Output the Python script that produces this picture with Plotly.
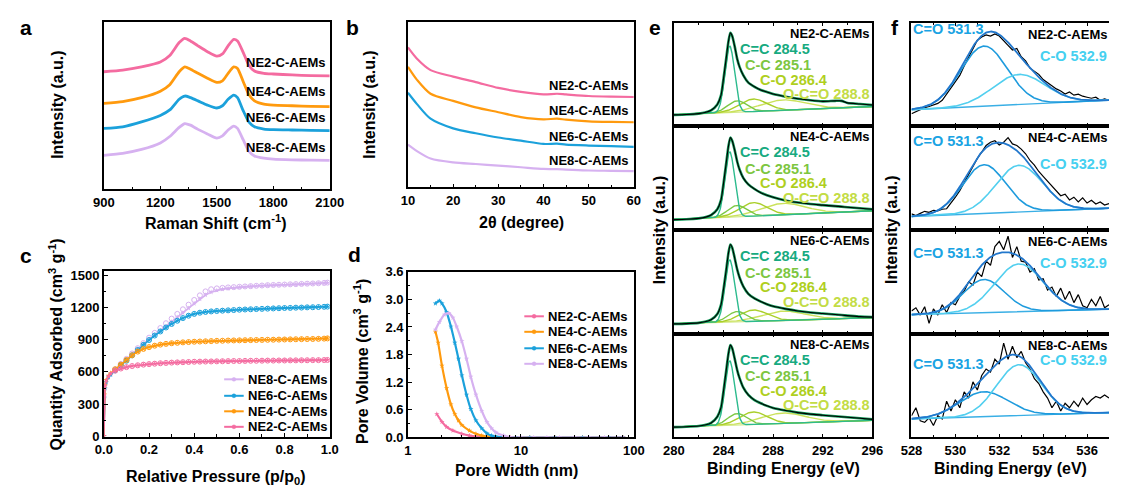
import numpy as np
import plotly.graph_objects as go

W, H = 1123, 493
FONT = "Liberation Sans, Arial, Helvetica, sans-serif"

SAMPLES = ["NE2-C-AEMs", "NE4-C-AEMs", "NE6-C-AEMs", "NE8-C-AEMs"]
COLORS = ["#F46BA0", "#FF9A0E", "#1BA1DB", "#D6B1F0"]

# ---------------- (a) Raman spectra (offset, a.u.) ----------------
raman_shift = [900, 1000, 1100, 1200, 1250, 1300, 1330, 1360, 1400, 1450, 1500, 1530,
               1560, 1590, 1610, 1640, 1670, 1700, 1750, 1800, 1900, 2000, 2100]
raman_ne2 = [363, 368, 378, 393, 413, 453, 466, 458, 443, 425, 411, 418,
             443, 463, 458, 423, 383, 365, 358, 356, 353, 351, 350]
raman_ne4 = [265, 271, 283, 303, 323, 363, 378, 371, 358, 343, 330, 335,
             358, 378, 373, 333, 293, 273, 263, 260, 258, 256, 255]
raman_ne6 = [188, 193, 208, 228, 245, 278, 288, 283, 273, 260, 251, 258,
             278, 291, 283, 243, 208, 193, 186, 184, 183, 182, 181]
raman_ne8 = [105, 111, 123, 143, 163, 191, 203, 198, 185, 171, 158, 165,
             183, 195, 188, 153, 118, 103, 96, 93, 91, 90, 89]

# ---------------- (b) XRD patterns (offset, a.u.) ----------------
two_theta = [10, 12, 15, 20, 25, 30, 35, 40, 43, 45, 50, 55, 60]
xrd_ne2 = [432, 397, 362, 342, 325, 307, 295, 287, 289, 287, 282, 280, 279]
xrd_ne4 = [372, 332, 289, 267, 247, 232, 217, 210, 212, 209, 204, 202, 201]
xrd_ne6 = [292, 257, 212, 182, 167, 154, 144, 134, 135, 132, 129, 127, 125]
xrd_ne8 = [132, 112, 89, 77, 72, 67, 62, 57, 56, 55, 52, 51, 50]

# ---------------- (c) N2 isotherms ----------------
rel_pressure = [0.0, 0.002, 0.005, 0.01, 0.02, 0.03, 0.05, 0.075, 0.1, 0.125, 0.15, 0.175,
                0.2, 0.225, 0.25, 0.275, 0.3, 0.325, 0.35, 0.375, 0.4, 0.425, 0.45, 0.475,
                0.5, 0.525, 0.55, 0.575, 0.6, 0.625, 0.65, 0.675, 0.7, 0.725, 0.75, 0.775,
                0.8, 0.825, 0.85, 0.875, 0.9, 0.925, 0.95, 0.975, 0.99]
ads_ne2 = [0, 380, 470, 520, 560, 585, 612, 632, 645, 655, 662, 668, 673, 677, 681, 684,
           687, 689, 691, 693, 695, 696, 697, 698, 699, 700, 701, 702, 702, 703, 704, 704,
           705, 706, 706, 707, 707, 708, 708, 709, 709, 710, 710, 711, 712]
ads_ne4 = [0, 390, 480, 525, 565, 590, 625, 668, 712, 755, 790, 815, 832, 845, 855, 862,
           868, 872, 876, 879, 882, 884, 886, 888, 890, 891, 893, 894, 895, 896, 897, 898,
           899, 900, 901, 902, 903, 904, 905, 906, 907, 908, 909, 911, 913]
ads_ne6 = [0, 360, 450, 505, 550, 575, 615, 660, 705, 755, 805, 853, 898, 940, 978, 1015,
           1048, 1078, 1103, 1125, 1142, 1153, 1160, 1165, 1169, 1172, 1175, 1178, 1181,
           1183, 1185, 1187, 1189, 1191, 1193, 1195, 1197, 1198, 1200, 1201, 1203, 1204,
           1206, 1208, 1210]
ads_ne8 = [0, 350, 440, 500, 548, 575, 618, 668, 715, 765, 815, 862, 905, 945, 985, 1025,
           1068, 1110, 1152, 1195, 1238, 1280, 1318, 1345, 1362, 1373, 1380, 1386, 1391,
           1395, 1399, 1402, 1405, 1408, 1410, 1412, 1414, 1416, 1418, 1420, 1422, 1424,
           1426, 1429, 1432]
des_pressure = rel_pressure[6:]
des_ne2 = ads_ne2[6:]
des_ne4 = ads_ne4[6:]
des_ne6 = ads_ne6[6:]
des_ne8 = [625, 675, 722, 772, 822, 870, 920, 965, 1010, 1055, 1098, 1142, 1185, 1228,
           1272, 1315, 1352, 1372, 1380, 1385, 1389, 1392, 1395, 1398, 1401, 1404, 1407,
           1410, 1412, 1414, 1416, 1418, 1420, 1422, 1424, 1426, 1428, 1431, 1434]

# ---------------- (d) pore size distributions ----------------
pw_ne2 = [1.8, 2.0, 2.2, 2.5, 3.0, 3.5, 4.0, 5.0, 6.0, 8.0, 12, 20, 35, 60, 80]
pv_ne2 = [0.51, 0.34, 0.23, 0.15, 0.08, 0.04, 0.02, 0.01, 0.005, 0, 0, 0, 0, 0, 0]
pw_ne4 = [1.75, 1.85, 2.0, 2.2, 2.4, 2.6, 2.8, 3.0, 3.5, 4.0, 4.5, 5.0, 6.0, 8, 12, 20, 35, 60, 80]
pv_ne4 = [2.30, 2.06, 1.56, 1.07, 0.72, 0.51, 0.37, 0.27, 0.15, 0.08, 0.04, 0.02, 0.01,
          0, 0, 0, 0, 0, 0]
pw_ne6 = [1.75, 1.9, 2.0, 2.2, 2.4, 2.6, 2.8, 3.0, 3.3, 3.6, 4.0, 4.5, 5.0, 5.5, 6.0, 7.0,
          9, 12, 20, 35, 60, 80]
pv_ne6 = [2.91, 2.97, 2.91, 2.72, 2.41, 2.06, 1.71, 1.35, 0.93, 0.62, 0.37, 0.20, 0.09,
          0.04, 0.02, 0.01, 0, 0, 0, 0, 0, 0]
pw_ne8 = [1.75, 1.9, 2.1, 2.3, 2.5, 2.7, 3.0, 3.3, 3.6, 4.0, 4.5, 5.0, 5.5, 6.0, 7.0, 8.0,
          10, 13, 17, 22, 30, 40, 55, 80]
pv_ne8 = [2.34, 2.51, 2.67, 2.70, 2.60, 2.41, 2.09, 1.71, 1.32, 0.93, 0.58, 0.34, 0.20,
          0.11, 0.04, 0.01, 0, 0, 0, 0, 0, 0, 0, 0]

# ---------------- (e) C 1s spectra ----------------
c1s_energy = [280, 281, 282, 282.5, 283, 283.5, 283.8, 284.0, 284.2, 284.4, 284.55, 284.7,
              284.9, 285.1, 285.3, 285.6, 286, 286.5, 287, 287.5, 288, 289, 290, 291, 292,
              293, 293.5, 294, 295, 296]
c1s_ne2 = [11.0, 11.3, 12.2, 13.2, 15.4, 21.0, 30, 46, 64, 82, 90, 87, 77, 65, 57, 49, 42,
           38, 35, 33, 31, 28.5, 26.5, 25, 24, 24.5, 24.5, 22.5, 21.5, 20.5]
c1s_ne4 = [10, 10.3, 11.2, 12.2, 14.4, 20, 29, 45, 63, 81, 89, 86, 77, 66, 58, 50, 44,
           39.5, 36, 33.5, 31.5, 28.5, 26.5, 25, 24, 23, 22.5, 22, 21, 20]
c1s_ne6 = [9.5, 9.8, 10.5, 11.5, 13.5, 19, 28, 43, 60, 78, 86, 83, 73, 62, 54, 45.5, 38.5,
           34, 31, 28.5, 26.5, 24, 22, 20.5, 19.5, 18.5, 18, 17.5, 16.5, 16]
c1s_ne8 = [10, 10.3, 11, 12, 14, 20, 29, 45, 63, 81, 89, 86, 76, 65, 57, 48, 41, 36, 33,
           30.5, 28.5, 26, 24, 22.5, 21.5, 20.5, 20, 19.5, 18.5, 17.5]
c1s_names = ["C=C", "C-C", "C-O", "O-C=O"]
c1s_centers = [284.5, 285.1, 286.4, 288.8]
c1s_fwhm = [0.9, 1.8, 2.6, 4.2]
c1s_heights = [[64, 11, 12, 10], [63, 11, 13, 11], [60, 10, 11, 9], [62, 11, 12, 10]]
c1s_background = [(11, 19), (10, 18.5), (9.5, 15.5), (10, 16.5)]

# ---------------- (f) O 1s spectra ----------------
o1s_energy = np.round(np.arange(528.0, 537.01, 0.2), 1)
o1s_ne2 = [12, 14, 16.5, 18, 19, 20.5, 22, 25, 31, 38, 44, 49, 58, 66, 75, 83, 86, 88, 87,
           89, 87, 83, 78, 73.5, 75, 67, 63, 56, 53, 50, 45, 42, 39, 36, 34, 31, 33, 30, 31,
           29, 28, 27, 28, 25, 26.5, 25]
o1s_ne4 = [15.6, 14, 16, 18, 17, 19, 18.5, 20, 20.5, 25.5, 31.6, 37.9, 45.7, 53.5, 61, 69,
           75, 81.5, 84.6, 86, 82, 84.6, 89, 83, 81.5, 78, 73.5, 67, 62.6, 56.4, 51.7, 47,
           42.4, 37.9, 33, 34.6, 29, 31.6, 27, 31, 26, 28.6, 25, 27, 24, 25.5]
o1s_ne6 = [22, 25, 18, 26, 10, 24, 18, 28, 20.5, 30, 28, 36, 41, 50, 47, 59.5, 55, 70, 66,
           84, 89, 81, 94, 73.5, 84, 70, 69, 59.5, 62.6, 51.7, 53, 42, 45, 36, 44, 33, 41,
           30, 37.7, 27, 25, 33, 27, 36, 25, 28]
o1s_ne8 = [20.9, 28.7, 16, 14.6, 19, 11.5, 21, 17.8, 35, 25.5, 36.4, 28.7, 44, 38, 53.6,
           45.8, 59.8, 66, 63, 75.4, 70.7, 91, 75.4, 87.9, 77, 83, 72, 66, 56.7, 52, 44, 38,
           28.7, 35, 25.5, 33, 28.7, 35, 30, 38, 31.8, 36.4, 39.6, 38, 41, 38]
o1s_names = ["C=O", "C-O"]
o1s_centers = [531.3, 532.9]
o1s_heights = [[58, 29], [47, 45], [32, 46], [24, 49]]
o1s_fwhm = [[2.5, 2.8], [2.3, 2.5], [2.2, 2.6], [2.6, 2.4]]
o1s_background = [(15.9, 25.2), (13, 21), (18.4, 23.7), (17.8, 24)]

C1S_LINE = ["#2DBB8E", "#7CC843", "#AACF2A", "#CBE25C"]
C1S_TEXT = ["#17AA80", "#7DC63F", "#AFCF1E", "#C3DC45"]
C1S_ENV = "#139A5A"
O1S_LINE = ["#1E9BDD", "#52CFEF"]
O1S_TEXT = ["#1AA3E3", "#45D0F0"]
O1S_ENV = "#2277CC"
O1S_BASE = "#3AAFE5"


def dx(x0, x1):
    return [x0 / W, min(x1 / W, 1.0)]


def dy(y0, y1):
    return [1 - y1 / H, 1 - y0 / H]


def gauss(e, center, height, fwhm):
    return height * np.exp(-4 * np.log(2) * ((e - center) / fwhm) ** 2)


def linear_bg(e, lo, hi):
    return lo + (hi - lo) * (e - e[0]) / (e[-1] - e[0])


TICKFONT = dict(family=FONT, size=13, color="black", weight="bold")


def axis_style(**kw):
    base = dict(showline=True, linecolor="black", linewidth=1.5, mirror=True,
                ticks="inside", ticklen=4, tickwidth=1.3, tickcolor="black",
                showgrid=False, zeroline=False, tickfont=TICKFONT)
    base.update(kw)
    return base


def minor(**kw):
    d = dict(ticks="inside", ticklen=2.5, tickwidth=1.1, tickcolor="black", showgrid=False)
    d.update(kw)
    return d


fig = go.Figure()


def add(x, y, ax, **kw):
    fig.add_trace(go.Scatter(x=x, y=y, xaxis="x" + ax, yaxis="y" + ax,
                             showlegend=False, hoverinfo="skip", **kw))


# (a)
for vals, col in zip([raman_ne2, raman_ne4, raman_ne6, raman_ne8], COLORS):
    add(raman_shift, vals, "", mode="lines",
        line=dict(color=col, width=2.8, shape="spline", smoothing=0.6))

# (b)
for vals, col in zip([xrd_ne2, xrd_ne4, xrd_ne6, xrd_ne8], COLORS):
    add(two_theta, vals, "2", mode="lines",
        line=dict(color=col, width=2.2, shape="spline", smoothing=0.8))

# (c) drawn NE8 first so the lower isotherms sit on top
iso = [(ads_ne8, des_ne8, COLORS[3]), (ads_ne6, des_ne6, COLORS[2]),
       (ads_ne4, des_ne4, COLORS[1]), (ads_ne2, des_ne2, COLORS[0])]
for ads, des, col in iso:
    add(rel_pressure, ads, "3", mode="lines+markers",
        line=dict(color=col, width=1.6),
        marker=dict(symbol="star", size=4, color=col))
    add(des_pressure, des, "3", mode="markers",
        marker=dict(symbol="circle-open", size=5, color=col, line=dict(width=1, color=col)))

# (d)
for w, v, col in zip([pw_ne2, pw_ne4, pw_ne6, pw_ne8], [pv_ne2, pv_ne4, pv_ne6, pv_ne8], COLORS):
    add(w, v, "4", mode="lines+markers",
        line=dict(color=col, width=2.2, shape="spline", smoothing=0.5),
        marker=dict(symbol="star", size=4, color=col))

# (e) C 1s fits
e_c = np.linspace(280, 296, 401)
c1s_data = [c1s_ne2, c1s_ne4, c1s_ne6, c1s_ne8]
for i in range(4):
    ax = str(5 + i)
    bg = linear_bg(e_c, *c1s_background[i])
    add(e_c, bg, ax, mode="lines", line=dict(color="#D3E98A", width=1.2))
    for k in reversed(range(4)):
        add(e_c, bg + gauss(e_c, c1s_centers[k], c1s_heights[i][k], c1s_fwhm[k]), ax,
            mode="lines", line=dict(color=C1S_LINE[k], width=1.4))
    add(c1s_energy, c1s_data[i], ax, mode="lines",
        line=dict(color=C1S_ENV, width=2.6, shape="spline", smoothing=0.6))
    add(c1s_energy, c1s_data[i], ax, mode="lines",
        line=dict(color="black", width=1.1, shape="spline", smoothing=0.6))

# (f) O 1s fits
e_o = np.linspace(528, 537, 361)
o1s_data = [o1s_ne2, o1s_ne4, o1s_ne6, o1s_ne8]
for i in range(4):
    ax = str(9 + i)
    bg = linear_bg(e_o, *o1s_background[i])
    comps = [gauss(e_o, o1s_centers[k], o1s_heights[i][k], o1s_fwhm[i][k]) for k in range(2)]
    add(o1s_energy, o1s_data[i], ax, mode="lines", line=dict(color="black", width=1.2))
    add(e_o, bg, ax, mode="lines", line=dict(color=O1S_BASE, width=1.4))
    for k in range(2):
        add(e_o, bg + comps[k], ax, mode="lines", line=dict(color=O1S_LINE[k], width=1.6))
    add(e_o, bg + comps[0] + comps[1], ax, mode="lines", line=dict(color=O1S_ENV, width=1.8))

layout = dict(
    width=W, height=H, autosize=False,
    margin=dict(l=0, r=0, t=0, b=0),
    paper_bgcolor="white", plot_bgcolor="white",
    font=dict(family=FONT, color="black"),
    showlegend=False,
)

layout["xaxis"] = axis_style(domain=dx(95, 326), range=[900, 2100], anchor="y",
                             tickvals=[900, 1200, 1500, 1800, 2100],
                             minor=minor(tick0=900, dtick=150))
layout["yaxis"] = axis_style(domain=dy(15, 188), range=[0, 518], anchor="x",
                             ticks="", showticklabels=False)
layout["xaxis2"] = axis_style(domain=dx(406, 637), range=[10, 60], anchor="y2",
                              tickvals=[10, 20, 30, 40, 50, 60], minor=minor(tick0=10, dtick=5))
layout["yaxis2"] = axis_style(domain=dy(15, 186), range=[0, 512], anchor="x2",
                              ticks="", showticklabels=False)
layout["xaxis3"] = axis_style(domain=dx(95, 326), range=[0, 1], anchor="y3",
                              tickvals=[0, 0.2, 0.4, 0.6, 0.8, 1.0], tickformat=".1f",
                              minor=minor(tick0=0, dtick=0.1))
layout["yaxis3"] = axis_style(domain=dy(272, 443), range=[-3, 1545], anchor="x3",
                              tickvals=[0, 300, 600, 900, 1200, 1500],
                              minor=minor(tick0=0, dtick=150))
layout["xaxis4"] = axis_style(domain=dx(406, 637), type="log", range=[0, 2], anchor="y4",
                              tickvals=[1, 10, 100], ticktext=["1", "10", "100"],
                              minor=minor(tickvals=[2, 3, 4, 5, 6, 7, 8, 9,
                                                    20, 30, 40, 50, 60, 70, 80, 90]))
layout["yaxis4"] = axis_style(domain=dy(273, 444), range=[0, 3.6], anchor="x4",
                              tickvals=[0, 0.6, 1.2, 1.8, 2.4, 3.0, 3.6], tickformat=".1f",
                              minor=minor(tick0=0, dtick=0.3))

PANEL_TOPS = [16, 123, 230, 337]
for i, top in enumerate(PANEL_TOPS):
    n = 5 + i
    layout["xaxis%d" % n] = axis_style(domain=dx(678, 881), range=[280, 296], anchor="y%d" % n,
                                       tickvals=[280, 284, 288, 292, 296], mirror="ticks",
                                       showticklabels=(i == 3),
                                       minor=minor(tick0=280, dtick=2))
    layout["yaxis%d" % n] = axis_style(domain=dy(top, top + 107), range=[0, 100],
                                       anchor="x%d" % n, ticks="", showticklabels=False)
    m = 9 + i
    layout["xaxis%d" % m] = axis_style(domain=dx(921, 1123), range=[528, 537], anchor="y%d" % m,
                                       tickvals=[528, 530, 532, 534, 536], mirror="ticks",
                                       showticklabels=(i == 3),
                                       minor=minor(tick0=528, dtick=1))
    layout["yaxis%d" % m] = axis_style(domain=dy(top, top + 107), range=[0, 100],
                                       anchor="x%d" % m, ticks="", showticklabels=False,
                                       mirror=False)

annotations = []
shapes = []


def text(x, y, s, size=13, color="black", xanchor="left", angle=0):
    annotations.append(dict(x=x / W, y=1 - y / H, xref="paper", yref="paper",
                            text="<b>%s</b>" % s, showarrow=False, xanchor=xanchor,
                            yanchor="middle", textangle=angle, borderpad=0,
                            font=dict(family=FONT, size=size, color=color)))


# panel letters
for letter, (lx, ly) in zip("abcdef", [(15, 21), (349, 21), (15, 256), (351, 255),
                                       (659, 21), (904, 21)]):
    text(lx, ly, letter, size=21, xanchor="center")

# axis titles
text(210, 222, "Raman Shift (cm<sup>-1</sup>)", size=16, xanchor="center")
text(48, 101, "Intensity (a.u.)", size=16, xanchor="center", angle=-90)
text(522, 222, "2θ (degree)", size=16, xanchor="center")
text(367, 101, "Intensity (a.u.)", size=16, xanchor="center", angle=-90)
text(210, 485, "Relative Pressure (p/p<sub>0</sub>)", size=16, xanchor="center")
text(46, 348, "Quantity Adsorbed (cm<sup>3</sup> g<sup>-1</sup>)", size=16,
     xanchor="center", angle=-90)
text(517, 478, "Pore Width (nm)", size=16, xanchor="center")
text(358, 366, "Pore Volume (cm<sup>3</sup> g<sup>-1</sup>)", size=16,
     xanchor="center", angle=-90)
text(790, 476, "Binding Energy (eV)", size=16, xanchor="center")
text(663, 230, "Intensity (a.u.)", size=16, xanchor="center", angle=-90)
text(1022, 476, "Binding Energy (eV)", size=16, xanchor="center")
text(900, 230, "Intensity (a.u.)", size=16, xanchor="center", angle=-90)

# sample labels in (a) and (b)
for name, ya, yb in zip(SAMPLES, [57, 87, 114, 145], [81, 107, 134, 158]):
    text(322, ya, name, xanchor="right")
    text(632, yb, name, xanchor="right")


# legends in (c) and (d)
def legend_entry(x0, y, name, col):
    shapes.append(dict(type="line", xref="paper", yref="paper", x0=x0 / W, x1=(x0 + 20) / W,
                       y0=1 - y / H, y1=1 - y / H, line=dict(color=col, width=2)))
    shapes.append(dict(type="circle", xref="paper", yref="paper",
                       x0=(x0 + 8) / W, x1=(x0 + 12) / W, y0=1 - (y + 2) / H, y1=1 - (y - 2) / H,
                       fillcolor=col, line=dict(color=col, width=0.5)))
    text(x0 + 23, y, name)


for idx, y in zip([3, 2, 1, 0], [384, 401, 417, 433]):
    legend_entry(218, y, SAMPLES[idx], COLORS[idx])
for idx, y in zip([0, 1, 2, 3], [319, 335, 352, 368]):
    legend_entry(525, y, SAMPLES[idx], COLORS[idx])

# XPS peak labels
for i, top in enumerate(PANEL_TOPS):
    text(879, top + 11, SAMPLES[i], size=13, xanchor="right")
    for k, (lx, dyk) in enumerate([(745, 27), (750, 44), (765, 59), (789, 74)]):
        text(lx, top + dyk, "%s %.1f" % (c1s_names[k], c1s_centers[k]), size=14.5,
             color=C1S_TEXT[k])
    text(1122, top + 12, SAMPLES[i], size=13, xanchor="right")
    text(922, top + [7, 15, 24, 31][i], "%s %.1f" % (o1s_names[0], o1s_centers[0]),
         size=14.5, color=O1S_TEXT[0])
    text(1122, top + [35, 39, 34, 27][i], "%s %.1f" % (o1s_names[1], o1s_centers[1]),
         size=14.5, color=O1S_TEXT[1], xanchor="right")

layout["annotations"] = annotations
layout["shapes"] = shapes
fig.update_layout(**layout)

fig.write_html("out.html", config={"displayModeBar": False})
